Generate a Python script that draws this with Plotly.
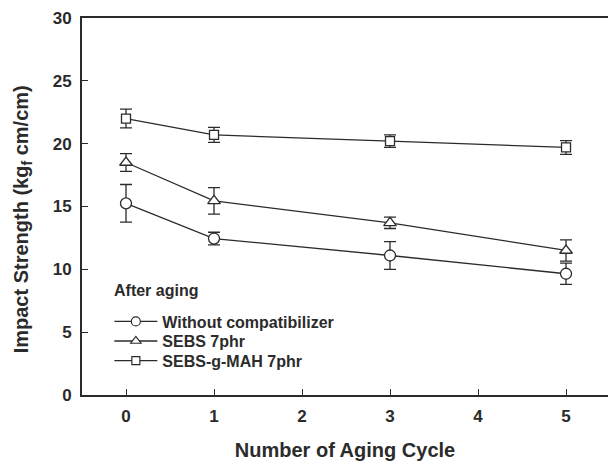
import plotly.graph_objects as go

cycles = [0, 1, 3, 5]
names = ["Without compatibilizer", "SEBS 7phr", "SEBS-g-MAH 7phr"]
without_vals = [15.25, 12.45, 11.1, 9.65]
without_err = [1.5, 0.5, 1.1, 0.85]
sebs_vals = [18.5, 15.45, 13.7, 11.5]
sebs_err = [0.7, 1.05, 0.45, 0.85]
mah_vals = [22.0, 20.7, 20.2, 19.7]
mah_err = [0.75, 0.6, 0.5, 0.55]
x_ticks = [0, 1, 2, 3, 4, 5]
y_ticks = [0, 5, 10, 15, 20, 25, 30]

FONT = "Liberation Sans, Arial, sans-serif"
INK = "#2b2b2b"

series = [
    (names[0], without_vals, without_err, "circle", 11, 9),
    (names[1], sebs_vals, sebs_err, "triangle-up", 11, 9),
    (names[2], mah_vals, mah_err, "square", 9, 8),
]
legend_ids = ["legend", "legend2", "legend3"]
legend_y = [0.195, 0.143, 0.091]

fig = go.Figure()
for name, vals, err, sym, size, lsize in series:
    fig.add_trace(go.Scatter(
        x=cycles, y=vals, name=name, mode="lines+markers", showlegend=False,
        line=dict(color=INK, width=1.3),
        marker=dict(symbol=sym, size=size, color="white",
                    line=dict(color=INK, width=1.3)),
        error_y=dict(type="data", array=err, visible=True,
                     color=INK, thickness=1.3, width=6),
    ))
# legend entries (no error bars, smaller symbols)
for (name, vals, err, sym, size, lsize), lid in zip(series, legend_ids):
    fig.add_trace(go.Scatter(
        x=[None], y=[None], name=name, mode="lines+markers", legend=lid,
        line=dict(color=INK, width=1.3),
        marker=dict(symbol=sym, size=lsize, color="white",
                    line=dict(color=INK, width=1.2)),
    ))

legend_common = dict(x=0.052, xanchor="left", yanchor="middle",
                     bgcolor="rgba(0,0,0,0)",
                     font=dict(family=FONT, size=16, color=INK, weight="bold"),
                     itemwidth=43)

fig.update_layout(
    width=608, height=461,
    margin=dict(l=82, r=0, t=18, b=63),
    paper_bgcolor="white", plot_bgcolor="white",
    font=dict(family=FONT, color=INK, size=16),
    showlegend=True,
    legend=dict(y=legend_y[0], **legend_common),
    legend2=dict(y=legend_y[1], **legend_common),
    legend3=dict(y=legend_y[2], **legend_common),
    xaxis=dict(range=[-0.5, 5.477], tickvals=x_ticks,
               ticks="inside", ticklen=6, tickwidth=1, tickcolor=INK,
               showline=True, linewidth=2, linecolor=INK, mirror=True,
               showgrid=False, zeroline=False, ticklabelstandoff=5,
               tickfont=dict(size=17, weight="bold"),
               title=dict(text="Number of Aging Cycle",
                          font=dict(size=20, weight="bold"), standoff=21)),
    yaxis=dict(range=[0, 30], tickvals=y_ticks,
               ticks="inside", ticklen=6, tickwidth=1, tickcolor=INK,
               showline=True, linewidth=2, linecolor=INK, mirror=False,
               showgrid=False, zeroline=False, ticklabelstandoff=5,
               tickfont=dict(size=17, weight="bold")),
    annotations=[
        dict(text="After aging", x=0.057, y=0.278, xref="paper", yref="paper",
             xanchor="left", yanchor="middle", showarrow=False,
             font=dict(family=FONT, size=16, color=INK, weight="bold")),
        dict(text="Impact Strength (kg<sub>f</sub> cm/cm)", textangle=-90,
             x=-0.114, y=0.466, xref="paper", yref="paper",
             xanchor="center", yanchor="middle", showarrow=False,
             font=dict(family=FONT, size=20, color=INK, weight="bold")),
    ],
)

fig.write_html("out.html")
